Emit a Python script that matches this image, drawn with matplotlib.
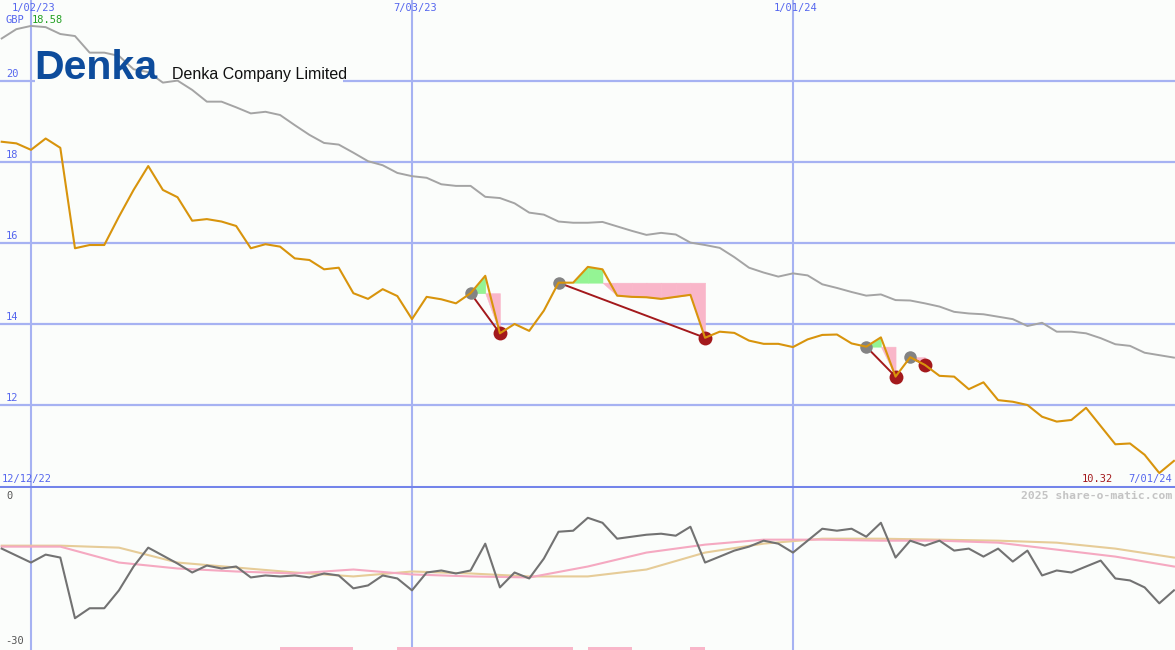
import matplotlib
matplotlib.use('Agg')
import matplotlib.pyplot as plt
import matplotlib.dates as mdates
import numpy as np
import pandas as pd
from matplotlib.patches import Rectangle

# weekly closes, 19 Dec 2022 .. 1 Jul 2024
weeks = pd.date_range('2022-12-19', periods=81, freq='7D')
price = [18.50, 18.46, 18.30, 18.58, 18.35, 15.87, 15.95, 15.95, 16.65, 17.31,
         17.90, 17.31, 17.13, 16.55, 16.59, 16.53, 16.42, 15.87, 15.97, 15.91,
         15.62, 15.58, 15.35, 15.39, 14.76, 14.62, 14.86, 14.69, 14.12, 14.67,
         14.61, 14.51, 14.76, 15.19, 13.77, 14.00, 13.83, 14.33, 15.02, 15.02,
         15.41, 15.35, 14.70, 14.67, 14.66, 14.62, 14.67, 14.72, 13.66, 13.81,
         13.78, 13.59, 13.51, 13.51, 13.43, 13.62, 13.73, 13.74, 13.52, 13.44,
         13.67, 12.70, 13.18, 12.99, 12.72, 12.70, 12.39, 12.56, 12.12, 12.08,
         12.00, 11.71, 11.59, 11.63, 11.93, 11.48, 11.03, 11.05, 10.77, 10.32,
         10.62]
long_avg = [21.05, 21.28, 21.36, 21.33, 21.16, 21.11, 20.70, 20.70, 20.62, 20.29,
            20.22, 19.96, 20.01, 19.78, 19.49, 19.49, 19.35, 19.20, 19.24, 19.16,
            18.91, 18.67, 18.47, 18.43, 18.23, 18.02, 17.92, 17.73, 17.65, 17.61,
            17.45, 17.41, 17.41, 17.14, 17.11, 16.98, 16.75, 16.70, 16.53, 16.50,
            16.50, 16.52, 16.41, 16.30, 16.20, 16.25, 16.21, 16.01, 15.95, 15.88,
            15.65, 15.39, 15.27, 15.17, 15.25, 15.20, 14.98, 14.89, 14.79, 14.70,
            14.73, 14.59, 14.58, 14.51, 14.43, 14.30, 14.26, 14.24, 14.18, 14.12,
            13.95, 14.03, 13.81, 13.81, 13.77, 13.65, 13.50, 13.46, 13.29, 13.23,
            13.17]
momentum = [-9.45, -10.89, -12.33, -10.69, -11.30, -23.84, -21.78, -21.78, -18.08, -13.15,
            -9.25, -10.89, -12.54, -14.39, -12.95, -13.56, -13.15, -15.41, -15.00, -15.21,
            -15.00, -15.41, -14.59, -15.00, -17.67, -17.06, -15.00, -15.62, -18.08, -14.39,
            -13.97, -14.59, -13.97, -8.43, -17.47, -14.39, -15.62, -11.51, -5.96, -5.75,
            -3.08, -4.11, -7.40, -6.99, -6.58, -6.37, -6.78, -4.93, -12.33, -11.10,
            -9.86, -9.04, -7.81, -8.43, -10.27, -7.81, -5.34, -5.75, -5.34, -6.99,
            -4.11, -11.30, -7.81, -8.84, -7.81, -9.86, -9.45, -11.10, -9.45, -12.13,
            -9.86, -15.00, -13.97, -14.39, -13.15, -11.92, -15.62, -16.03, -17.47, -20.76,
            -18.08]
# smoothed lines, read every 4 weeks
smooth_dates = weeks[::4]
smooth_pink = [-9.04, -9.04, -12.33, -13.56, -14.18, -14.59, -13.77, -14.79, -15.20, -15.41,
               -13.15, -10.27, -8.63, -7.60, -7.60, -7.81, -7.81, -8.22, -9.66, -11.10,
               -13.15]
smooth_tan = [-8.84, -8.84, -9.25, -12.33, -13.36, -14.38, -15.20, -14.18, -14.59, -15.20,
              -15.20, -13.77, -10.27, -8.42, -7.40, -7.40, -7.60, -7.81, -8.22, -9.45,
              -11.30]

# indices into weeks
buy_idx = [32, 38, 59, 62]
sell_idx = [34, 48, 61, 63]
down_spans = [(19, 24), (27, 39), (40, 43), (47, 48)]

grid_dates = pd.to_datetime(['2023-01-02', '2023-07-03', '2024-01-01'])
grid_labels = ['1/02/23', '7/03/23', '1/01/24']
price_levels = [12, 14, 16, 18, 20]

bg = '#fbfdfb'
grid_blue = '#a6b2f2'
label_blue = '#5566ee'
orange = '#d8940c'
pink = '#f9b6c9'
green = '#94f494'
dark_red = '#a3191c'
mono = 'DejaVu Sans Mono'

W, H = 1175, 650
fig = plt.figure(figsize=(W / 100, H / 100), dpi=100, facecolor=bg)
ax1 = fig.add_axes([0, 163 / H, 1, 487 / H], facecolor=bg)
ax2 = fig.add_axes([0, 0, 1, 162 / H], facecolor=bg)

x_left = pd.Timestamp('2022-12-18 04:30')
x_right = pd.Timestamp('2024-07-01 12:00')

for ax in (ax1, ax2):
    ax.set_xlim(x_left, x_right)
    ax.set_xticks([])
    ax.set_yticks([])
    for s in ax.spines.values():
        s.set_visible(False)
    for d in grid_dates:
        ax.axvline(d, color=grid_blue, lw=1.5, zorder=1)

ax1.set_ylim(9.975, 22.0)
ax2.set_ylim(-30.41, 3.08)
ax1.spines['bottom'].set_visible(True)
ax1.spines['bottom'].set_color('#7384ea')
ax1.spines['bottom'].set_linewidth(2.2)

for lv in price_levels:
    ax1.axhline(lv, color=grid_blue, lw=1.6, zorder=1)
    ax1.annotate(str(lv), xy=(0, lv), xycoords=('axes fraction', 'data'),
                 xytext=(6, 4), textcoords='offset pixels', va='baseline',
                 color=label_blue, fontsize=7.5, family=mono)

# box behind the logo hides the grid line
ax1.add_patch(Rectangle((35, H - 87), 308, 44, transform=None,
                        facecolor=bg, edgecolor='none', zorder=1.5))

ax1.plot(weeks, long_avg, color='#a4a4a4', lw=1.4, zorder=3)

# trade fills: each week coloured by where it closes against the entry price
for b, s in zip(buy_idx, sell_idx):
    level = price[b]
    for i in range(b, s):
        seg_x = weeks[i:i + 2]
        seg_y = np.array(price[i:i + 2])
        if seg_y[1] > level:
            ax1.fill_between(seg_x, np.maximum(seg_y, level), level,
                             facecolor=green, edgecolor=green, lw=0.4, zorder=2)
        elif seg_y[1] < level:
            ax1.fill_between(seg_x, np.minimum(seg_y, level), level,
                             facecolor=pink, edgecolor=pink, lw=0.4, zorder=2)

for b, s in zip(buy_idx, sell_idx):
    ax1.plot([weeks[b], weeks[s]], [price[b], price[s]], color=dark_red, lw=1.4, zorder=3.2)
    ax1.plot(weeks[b], price[b], 'o', color='#838383', ms=9, mec='none', zorder=3.5)
    ax1.plot(weeks[s], price[s], 'o', color=dark_red, ms=10, mec='none', zorder=3.5)

ax1.plot(weeks, price, color=orange, lw=1.5, zorder=4)

# lower panel
ax2.plot(smooth_dates, smooth_tan, color='#e6cc98', lw=1.5, zorder=2)
ax2.plot(smooth_dates, smooth_pink, color='#f5a9c1', lw=1.5, zorder=2)
ax2.plot(weeks, momentum, color='#727272', lw=1.5, zorder=3)
for a, b in down_spans:
    ax2.axvspan(weeks[a], weeks[b], ymin=0, ymax=3 / 162, color=pink, lw=0, zorder=2)


def px(x, y):
    return x / W, 1 - y / H


for d, lab in zip(grid_dates, grid_labels):
    xd = ax1.transData.transform((mdates.date2num(d), 0))[0]
    fig.text((xd + 3) / W, 1 - 8 / H, lab, ha='center', va='center',
             color=label_blue, fontsize=7.5, family=mono)

fig.text(*px(5, 20), 'GBP', ha='left', va='center', color=label_blue, fontsize=7.5, family=mono)
fig.text(*px(32, 20), '18.58', ha='left', va='center', color='#22a022', fontsize=7.5, family=mono)
fig.text(*px(2, 479), '12/12/22', ha='left', va='center', color=label_blue, fontsize=7.5, family=mono)
fig.text(*px(1172, 479), '7/01/24', ha='right', va='center', color=label_blue, fontsize=7.5, family=mono)
fig.text(*px(1113, 479), '10.32', ha='right', va='center', color=dark_red, fontsize=7.5, family=mono)
fig.text(*px(1172, 496), '2025 share-o-matic.com', ha='right', va='center',
         color='#c4c4c4', fontsize=8.2, family=mono, fontweight='bold')
fig.text(*px(6, 496), '0', ha='left', va='center', color='#555555', fontsize=7.5, family=mono)
fig.text(*px(5, 641), '-30', ha='left', va='center', color='#555555', fontsize=7.5, family=mono)

fig.text(*px(34, 79), 'Denka', ha='left', va='baseline', color='#0d4c9c',
         fontsize=29.5, fontweight='bold', family='Liberation Sans')
fig.text(*px(172, 79), 'Denka Company Limited', ha='left', va='baseline', color='#111111',
         fontsize=11.5, family='Liberation Sans')

fig.savefig('out.png', dpi=100, facecolor=bg)
